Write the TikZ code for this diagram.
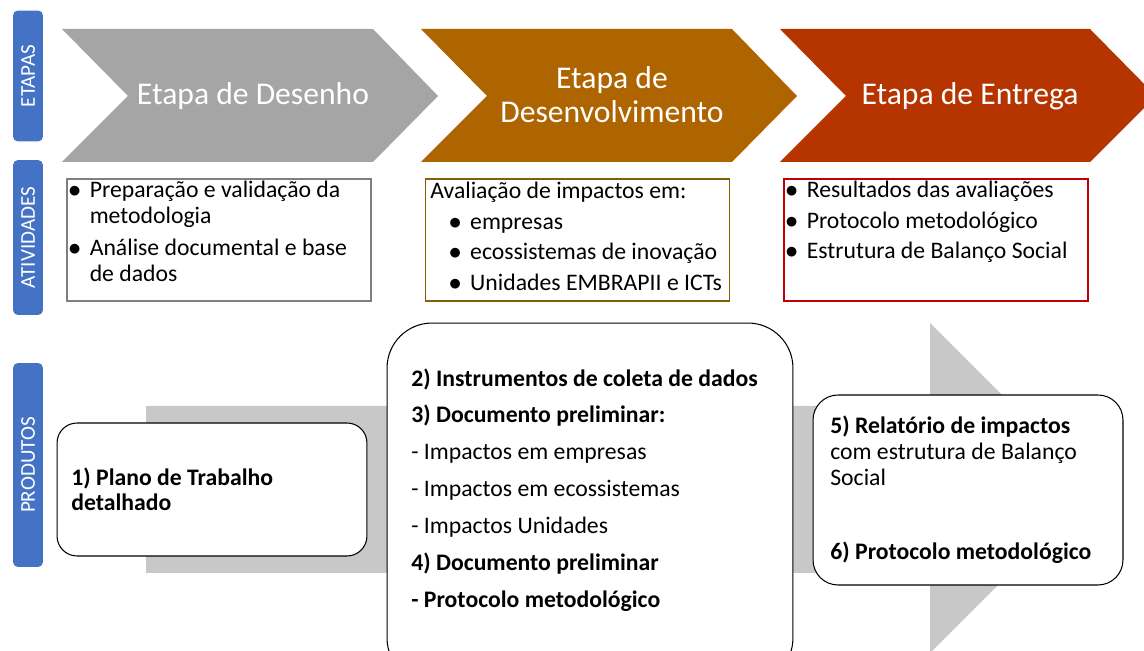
\documentclass[tikz,border=0pt]{standalone}
\usepackage{fontspec}
\setmainfont{Carlito}
\definecolor{tabblue}{RGB}{68,114,196}
\definecolor{stgray}{RGB}{165,165,165}
\definecolor{stbrown}{RGB}{174,101,0}
\definecolor{stred}{RGB}{181,52,0}
\definecolor{prodgray}{RGB}{200,200,200}
\definecolor{boxgray}{RGB}{127,127,127}
\definecolor{boxolive}{RGB}{128,96,0}
\definecolor{boxred}{RGB}{192,0,0}
\begin{document}
\begin{tikzpicture}[x=0.02cm,y=-0.02cm,
  tab/.style={fill=tabblue,rounded corners=0.1cm,rotate=90,minimum height=0.6cm,text=white,font=\fontsize{12}{14}\selectfont},
  stagetext/.style={text=white,align=center,font=\fontsize{18}{19.3}\selectfont},
  actbox/.style={draw,line width=0.8pt,minimum width=6.08cm,minimum height=2.44cm},
  acttext/.style={anchor=west,inner sep=0pt},
  prodbox/.style={draw,fill=white,line width=0.6pt},
  prodtext/.style={anchor=west,inner sep=0pt,align=left}]
\useasboundingbox (0,0) rectangle (1144,651);
\clip (0,0) rectangle (1144,651);
\node[tab,minimum width=2.62cm] (tetapas) at (28,76) {ETAPAS};
\node[tab,minimum width=3.1cm] (tativ) at (28,237.5) {ATIVIDADES};
\node[tab,minimum width=4.08cm] (tprod) at (28,465) {PRODUTOS};
% etapas
\fill[stgray] (62,29) -- (373,29) -- (438,96) -- (373,162) -- (62,162) -- (128,96) -- cycle;
\fill[stbrown] (421,29) -- (732,29) -- (797,96) -- (732,162) -- (421,162) -- (487,96) -- cycle;
\fill[stred] (780,29) -- (1090,29) -- (1156,96) -- (1090,162) -- (780,162) -- (846,96) -- cycle;
\node[stagetext] (s1) at (253,96) {Etapa de Desenho};
\node[stagetext] (s2) at (612,95) {Etapa de\\Desenvolvimento};
\node[stagetext] (s3) at (970,96) {Etapa de Entrega};
% atividades
\node[actbox,draw=boxgray] (a1) at (219,240) {};
\node[actbox,draw=boxolive] (a2) at (577.5,240) {};
\node[actbox,draw=boxred] (a3) at (936,240) {};
\node[acttext,font=\fontsize{13.5}{14.8}\selectfont] (a1t) at (68,234.25) {%
\begin{tabular}{@{}l@{\hspace{5pt}}l@{}}
$\bullet$ & Preparação e validação da\\
 & metodologia\\[3pt]
$\bullet$ & Análise documental e base\\
 & de dados
\end{tabular}};
\node[acttext,font=\fontsize{13.5}{17.3}\selectfont] (a2t) at (430,238.5) {%
\begin{tabular}{@{}l@{\hspace{5pt}}l@{}}
\multicolumn{2}{@{}l@{}}{Avaliação de impactos em:}\\
\hspace{10.5pt}$\bullet$ & empresas\\
\hspace{10.5pt}$\bullet$ & ecossistemas de inovação\\
\hspace{10.5pt}$\bullet$ & Unidades EMBRAPII e ICTs
\end{tabular}};
\node[acttext,font=\fontsize{13.5}{17.3}\selectfont] (a3t) at (785,222.3) {%
\begin{tabular}{@{}l@{\hspace{5pt}}l@{}}
$\bullet$ & Resultados das avaliações\\
$\bullet$ & Protocolo metodológico\\
$\bullet$ & Estrutura de Balanço Social
\end{tabular}};
% produtos
\fill[prodgray] (146,406) -- (930,406) -- (930,323) -- (1095,488) -- (930,653) -- (930,573) -- (146,573) -- cycle;
\node[prodbox,rounded corners=0.4cm,minimum width=6.2cm,minimum height=2.66cm] (p1) at (212,489.5) {};
\node[prodbox,rounded corners=0.9cm,minimum width=8.12cm,minimum height=7.2cm] (p2) at (590,503) {};
\node[prodbox,rounded corners=0.5cm,minimum width=6.2cm,minimum height=3.8cm] (p3) at (968,490) {};
\node[prodtext,font=\fontsize{13.5}{14.4}\selectfont\bfseries] (p1t) at (71,489.5) {1) Plano de Trabalho\\detalhado};
\node[prodtext,font=\fontsize{13.5}{21}\selectfont] (p2t) at (411,490) {%
\textbf{2) Instrumentos de coleta de dados}\\
\textbf{3) Documento preliminar:}\\
- Impactos em empresas\\
- Impactos em ecossistemas\\
- Impactos Unidades\\
\textbf{4) Documento preliminar}\\
\textbf{- Protocolo metodológico}};
\node[prodtext,font=\fontsize{13.5}{15}\selectfont] (p3t) at (830,489.5) {%
\textbf{5) Relatório de impactos}\\
com estrutura de Balanço\\
Social\\[27pt]
\textbf{6) Protocolo metodológico}};
\end{tikzpicture}
\end{document}
